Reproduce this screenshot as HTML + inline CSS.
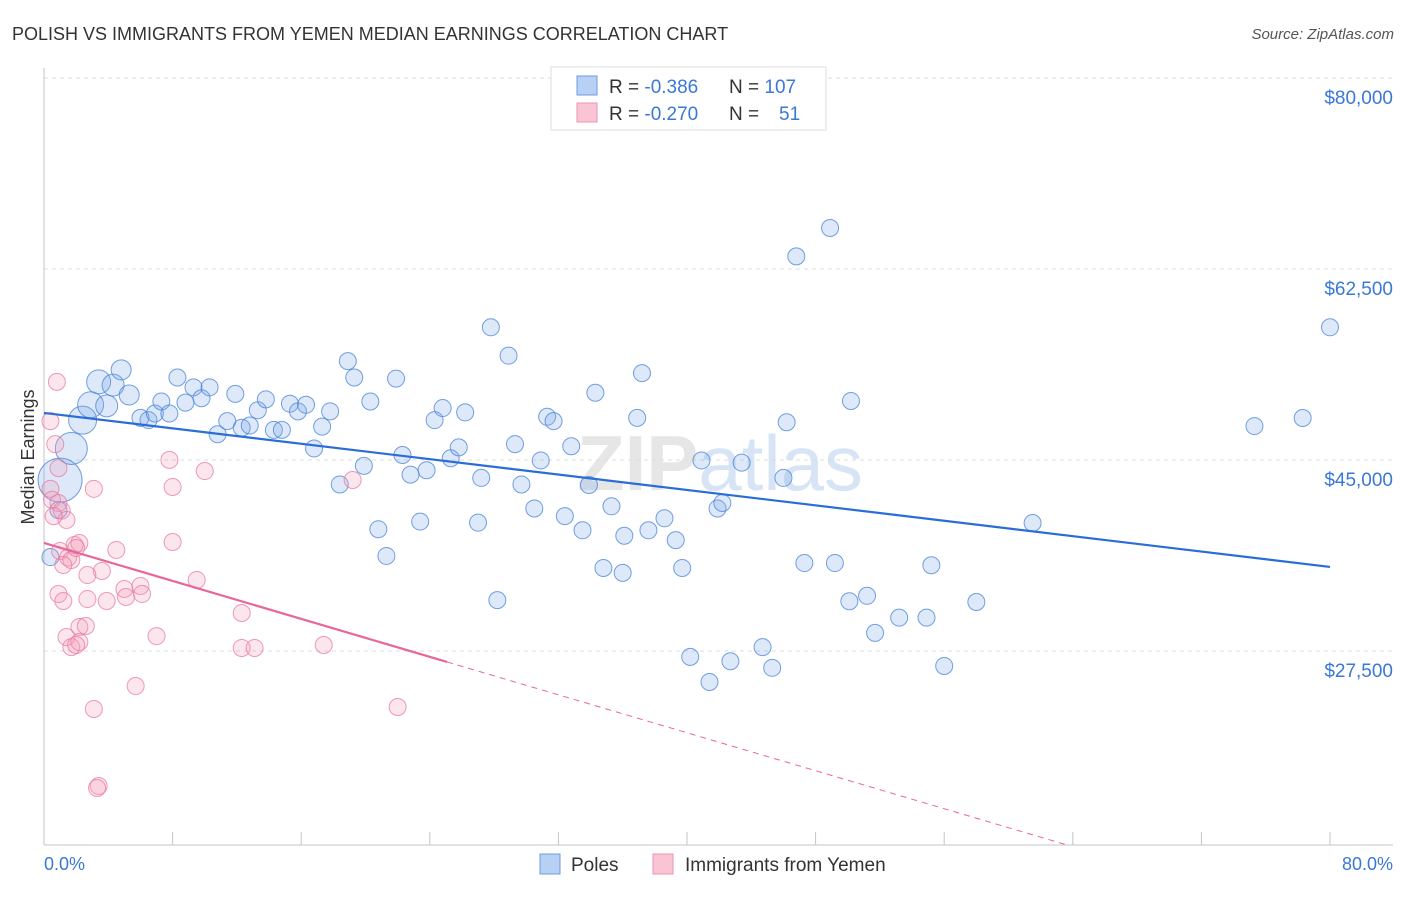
<!DOCTYPE html>
<html><head><meta charset="utf-8"><style>
body{margin:0;background:#fff;font-family:"Liberation Sans",sans-serif;}
</style></head><body>
<svg id="chart" width="1406" height="892" xmlns="http://www.w3.org/2000/svg" font-family="Liberation Sans, sans-serif">
<text x="12" y="40" font-size="18" fill="#333">POLISH VS IMMIGRANTS FROM YEMEN MEDIAN EARNINGS CORRELATION CHART</text>
<text x="1394" y="39" font-size="15" fill="#555" text-anchor="end" font-style="italic">Source: ZipAtlas.com</text>
<text x="720" y="490" font-size="78" fill="#e6e6e6" text-anchor="middle" font-weight="bold">ZIP<tspan fill="#d6e4f5" font-weight="normal">atlas</tspan></text>
<g id="grid"></g>
<line x1="44" y1="68" x2="44" y2="845" stroke="#c4c4c4"/>
<line x1="44" y1="845" x2="1393" y2="845" stroke="#c4c4c4"/>
<g id="ticks"></g>
<text transform="translate(34,457) rotate(-90)" font-size="18" fill="#333" text-anchor="middle">Median Earnings</text>
<text x="44" y="870" font-size="18" fill="#3a78d6">0.0%</text>
<text x="1393" y="870" font-size="18" fill="#3a78d6" text-anchor="end">80.0%</text>
<g id="pts"></g>
<g id="lines"></g>
<g>
<rect x="551" y="67" width="275" height="63" fill="#fff" stroke="#ddd"/>
<rect x="577" y="76" width="20" height="19" fill="#b8d0f3" stroke="#6b9be0"/>
<rect x="577" y="103" width="20" height="19" fill="#f9c5d5" stroke="#ee93b0"/>
<text x="609" y="93" font-size="19" fill="#333">R = <tspan fill="#3a78d6">-0.386</tspan><tspan x="729">N = </tspan><tspan fill="#3a78d6">107</tspan></text>
<text x="609" y="120" font-size="19" fill="#333">R = <tspan fill="#3a78d6">-0.270</tspan><tspan x="729">N = </tspan><tspan fill="#3a78d6" x="779">51</tspan></text>
</g>
<g><rect x="540" y="854" width="20" height="20" fill="#b8d0f3" stroke="#6b9be0"/><text x="571" y="871" font-size="19" fill="#333">Poles</text></g>
<g><rect x="653" y="854" width="20" height="20" fill="#f9c5d5" stroke="#ee93b0"/><text x="685" y="871" font-size="19" fill="#333">Immigrants from Yemen</text></g>
</svg>
<script>
const yTicks=[80000,62500,45000,27500];
const yTickLabels=["$80,000","$62,500","$45,000","$27,500"];
const xTicks=[0,8,16,24,32,40,48,56,64,72,80];
const bluePct=[1.0,1.7,2.4,3.4,2.9,4.3,4.8,3.9,5.3,6.0,6.5,6.9,7.3,7.8,8.3,8.8,9.3,9.8,10.3,10.8,11.4,11.9,12.3,12.8,13.3,13.8,14.3,14.8,15.3,15.8,16.3,16.8,17.3,17.8,18.4,18.9,19.3,19.9,20.3,20.8,21.3,21.9,22.3,22.8,23.4,23.8,24.3,24.8,25.3,25.8,26.2,27.0,27.2,27.8,28.2,28.9,29.3,29.7,30.5,30.9,31.3,31.7,32.4,32.8,33.5,33.9,34.3,34.8,35.3,36.0,36.1,36.9,37.2,37.6,38.6,39.3,39.7,40.2,40.9,41.4,41.9,42.2,42.7,43.4,44.7,45.3,46.0,46.2,46.8,47.3,48.9,49.2,50.1,50.2,51.2,51.7,53.2,54.9,55.2,56.0,58.0,61.5,75.3,78.3,80.0,0.4,0.9];
const blueVal=[44900,47800,50400,53900,51800,53600,55000,51700,52700,50600,50400,51000,52100,51000,54300,52000,53400,52400,53400,49100,50300,52800,49700,49900,51300,52300,49500,49500,51900,51200,51800,47800,49800,51200,44500,55800,54300,46200,52100,40400,37950,54200,47200,45400,41100,45800,50400,51500,46900,47900,51100,41000,45100,58900,33900,56300,48200,44500,42300,46700,50700,50300,41600,48000,40300,44450,52900,36850,42500,36400,39800,50600,54700,40300,41400,39400,36850,28700,46700,26400,42300,42800,28300,46500,29600,27700,45100,50200,65400,37300,68000,37300,33800,52150,34300,30900,32300,32300,37100,27870,33730,40970,49850,50590,58900,37850,42150];
const blueSize=[22,16,14,12,13,11,10,11,10];
const pinkPct=[0.8,0.4,0.7,0.9,0.4,0.5,0.9,1.1,1.4,0.6,1.0,1.5,1.9,1.7,2.2,2.0,1.2,0.9,1.2,2.2,1.4,1.7,2.2,2.0,2.6,2.7,3.1,3.1,3.4,3.3,3.6,3.9,4.5,5.0,5.1,5.7,6.0,6.1,7.0,7.8,8.0,8.0,9.5,10.0,12.3,12.3,13.1,17.4,19.2,22.0,2.7];
const pinkVal=[53900,50300,48200,46000,44100,43100,42800,42100,41250,41600,38400,37800,38950,37580,39140,38680,37120,34460,33820,31440,30520,29600,30070,29790,31530,34000,44100,23930,16870,16690,36570,33820,38500,34920,34190,26030,35200,34470,30600,46750,44270,39230,35750,45730,32720,29520,29520,29790,44910,24110,36200];
const blueTrend=[51050,36940];
const pinkTrend=[39140,28240];
const pinkSolidEnd=25.07;
const X0=44,X1=1330,Y0=97,YB=845,PX=(X1-X0)/80,PY=191/17500;
const xs=p=>X0+p*PX, ys=v=>Y0+(80000-v)*PY;
const NS="http://www.w3.org/2000/svg";
function mk(t,a,par){const e=document.createElementNS(NS,t);for(const k in a)e.setAttribute(k,a[k]);document.getElementById(par).appendChild(e);return e;}
yTicks.forEach((v,i)=>{
 const g=mk('line',{x1:44,x2:1393,y1:ys(v)-19,y2:ys(v)-19,stroke:'#ddd','stroke-dasharray':'4,4'},'grid');
 
 
 const t=mk('text',{x:1393,y:ys(v)+7,'font-size':19,fill:'#3a78d6','text-anchor':'end'},'grid');
 t.textContent=yTickLabels[i];
 
 
});
xTicks.forEach(p=>{
 const l=mk('line',{x1:xs(p),x2:xs(p),y1:832,y2:845,stroke:'#c4c4c4'},'ticks');
 
 
});
bluePct.forEach((p,i)=>{
 const c=mk('circle',{cx:xs(p),cy:ys(blueVal[i]),r:blueSize[i]||8.5,fill:'rgba(120,165,232,0.25)',stroke:'rgba(70,130,215,0.75)','stroke-width':1},'pts');
 
 
});
pinkPct.forEach((p,i)=>{
 const c=mk('circle',{cx:xs(p),cy:ys(pinkVal[i]),r:8.5,fill:'rgba(245,155,185,0.25)',stroke:'rgba(232,120,160,0.75)','stroke-width':1},'pts');
 
 
});
const bl=mk('line',{x1:xs(0),y1:ys(blueTrend[0]),x2:xs(80),y2:ys(blueTrend[1]),stroke:'#2a6dd6','stroke-width':2.2},'lines');


const slope=(pinkTrend[1]-pinkTrend[0])/pinkSolidEnd;
const pv=p=>pinkTrend[0]+slope*p;
const pl=mk('line',{x1:xs(0),y1:ys(pv(0)),x2:xs(pinkSolidEnd),y2:ys(pv(pinkSolidEnd)),stroke:'#e8679a','stroke-width':2.2},'lines');


const vMin=80000-(YB-Y0)/PY;
const pEnd=Math.min(80,(vMin-pinkTrend[0])/slope);
const pd=mk('line',{x1:xs(pinkSolidEnd),y1:ys(pv(pinkSolidEnd)),x2:xs(pEnd),y2:ys(pv(pEnd)),stroke:'#e8679a','stroke-width':1,'stroke-dasharray':'6,5'},'lines');


</script>
</body></html>
